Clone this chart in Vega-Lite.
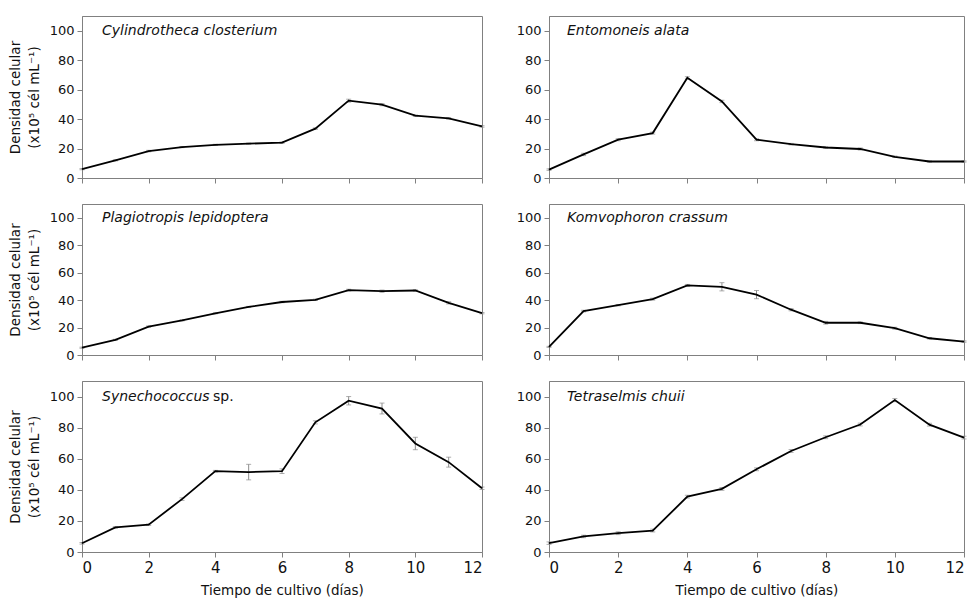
{
  "$schema": "https://vega.github.io/schema/vega-lite/v6.json",
  "padding": {"left": 7, "top": 15, "right": 5, "bottom": 2},
  "background": "white",
  "config": {
    "view": {"stroke": "#808080", "strokeWidth": 1},
    "font": "DejaVu Sans",
    "axis": {"grid": false, "domainColor": "#808080", "tickColor": "#808080", "labelColor": "#111", "titleColor": "#111", "titleFontWeight": "normal", "labelFont": "DejaVu Sans", "titleFont": "DejaVu Sans", "tickSize": 5, "labelOverlap": false},
    "axisY": {"labelFontSize": 13, "titleFontSize": 13.5, "titleLineHeight": 19, "titlePadding": 8, "labelPadding": 3},
    "axisX": {"labelFontSize": 15, "titleFontSize": 13.5, "labelPadding": 3, "titlePadding": 8}
  },
  "datasets": {
    "d": [
      {"sp": "Cylindrotheca closterium", "day": 0, "v": 6, "e": 0.4},
      {"sp": "Cylindrotheca closterium", "day": 1, "v": 12, "e": 0.4},
      {"sp": "Cylindrotheca closterium", "day": 2, "v": 18.3, "e": 0.5},
      {"sp": "Cylindrotheca closterium", "day": 3, "v": 21, "e": 0.4},
      {"sp": "Cylindrotheca closterium", "day": 4, "v": 22.5, "e": 0.4},
      {"sp": "Cylindrotheca closterium", "day": 5, "v": 23.3, "e": 0.4},
      {"sp": "Cylindrotheca closterium", "day": 6, "v": 24, "e": 0.5},
      {"sp": "Cylindrotheca closterium", "day": 7, "v": 33.5, "e": 0.5},
      {"sp": "Cylindrotheca closterium", "day": 8, "v": 52.5, "e": 1},
      {"sp": "Cylindrotheca closterium", "day": 9, "v": 49.8, "e": 0.7},
      {"sp": "Cylindrotheca closterium", "day": 10, "v": 42.3, "e": 0.5},
      {"sp": "Cylindrotheca closterium", "day": 11, "v": 40.5, "e": 0.5},
      {"sp": "Cylindrotheca closterium", "day": 12, "v": 35, "e": 0.5},
      {"sp": "Entomoneis alata", "day": 0, "v": 5.7, "e": 0.5},
      {"sp": "Entomoneis alata", "day": 1, "v": 16, "e": 0.8},
      {"sp": "Entomoneis alata", "day": 2, "v": 26, "e": 0.7},
      {"sp": "Entomoneis alata", "day": 3, "v": 30.5, "e": 0.7},
      {"sp": "Entomoneis alata", "day": 4, "v": 68, "e": 0.8},
      {"sp": "Entomoneis alata", "day": 5, "v": 52, "e": 0.8},
      {"sp": "Entomoneis alata", "day": 6, "v": 26, "e": 0.7},
      {"sp": "Entomoneis alata", "day": 7, "v": 23, "e": 0.5},
      {"sp": "Entomoneis alata", "day": 8, "v": 20.7, "e": 0.5},
      {"sp": "Entomoneis alata", "day": 9, "v": 19.7, "e": 0.7},
      {"sp": "Entomoneis alata", "day": 10, "v": 14.4, "e": 0.5},
      {"sp": "Entomoneis alata", "day": 11, "v": 11.2, "e": 0.4},
      {"sp": "Entomoneis alata", "day": 12, "v": 11.2, "e": 0.4},
      {"sp": "Plagiotropis lepidoptera", "day": 0, "v": 5.3, "e": 0.4},
      {"sp": "Plagiotropis lepidoptera", "day": 1, "v": 11, "e": 0.4},
      {"sp": "Plagiotropis lepidoptera", "day": 2, "v": 20.7, "e": 0.5},
      {"sp": "Plagiotropis lepidoptera", "day": 3, "v": 25.2, "e": 0.4},
      {"sp": "Plagiotropis lepidoptera", "day": 4, "v": 30.4, "e": 0.4},
      {"sp": "Plagiotropis lepidoptera", "day": 5, "v": 35, "e": 0.4},
      {"sp": "Plagiotropis lepidoptera", "day": 6, "v": 38.6, "e": 0.5},
      {"sp": "Plagiotropis lepidoptera", "day": 7, "v": 40.2, "e": 0.5},
      {"sp": "Plagiotropis lepidoptera", "day": 8, "v": 47.3, "e": 0.6},
      {"sp": "Plagiotropis lepidoptera", "day": 9, "v": 46.5, "e": 0.8},
      {"sp": "Plagiotropis lepidoptera", "day": 10, "v": 47, "e": 0.5},
      {"sp": "Plagiotropis lepidoptera", "day": 11, "v": 38, "e": 0.8},
      {"sp": "Plagiotropis lepidoptera", "day": 12, "v": 30.5, "e": 0.5},
      {"sp": "Komvophoron crassum", "day": 0, "v": 5.9, "e": 0.4},
      {"sp": "Komvophoron crassum", "day": 1, "v": 32, "e": 0.6},
      {"sp": "Komvophoron crassum", "day": 2, "v": 36.3, "e": 0.5},
      {"sp": "Komvophoron crassum", "day": 3, "v": 40.7, "e": 0.7},
      {"sp": "Komvophoron crassum", "day": 4, "v": 50.7, "e": 0.7},
      {"sp": "Komvophoron crassum", "day": 5, "v": 49.7, "e": 3},
      {"sp": "Komvophoron crassum", "day": 6, "v": 44, "e": 3},
      {"sp": "Komvophoron crassum", "day": 7, "v": 33, "e": 0.8},
      {"sp": "Komvophoron crassum", "day": 8, "v": 23.5, "e": 1},
      {"sp": "Komvophoron crassum", "day": 9, "v": 23.5, "e": 0.6},
      {"sp": "Komvophoron crassum", "day": 10, "v": 19.5, "e": 0.7},
      {"sp": "Komvophoron crassum", "day": 11, "v": 12.2, "e": 0.5},
      {"sp": "Komvophoron crassum", "day": 12, "v": 9.8, "e": 0.5},
      {"sp": "Synechococcus", "day": 0, "v": 5.6, "e": 0.5},
      {"sp": "Synechococcus", "day": 1, "v": 15.8, "e": 0.5},
      {"sp": "Synechococcus", "day": 2, "v": 17.6, "e": 0.5},
      {"sp": "Synechococcus", "day": 3, "v": 34, "e": 0.8},
      {"sp": "Synechococcus", "day": 4, "v": 52, "e": 0.5},
      {"sp": "Synechococcus", "day": 5, "v": 51.4, "e": 5},
      {"sp": "Synechococcus", "day": 6, "v": 52, "e": 1.5},
      {"sp": "Synechococcus", "day": 7, "v": 83.4, "e": 1},
      {"sp": "Synechococcus", "day": 8, "v": 97.3, "e": 2.7},
      {"sp": "Synechococcus", "day": 9, "v": 92.3, "e": 3.5},
      {"sp": "Synechococcus", "day": 10, "v": 69.8, "e": 4},
      {"sp": "Synechococcus", "day": 11, "v": 57.8, "e": 3.2},
      {"sp": "Synechococcus", "day": 12, "v": 41, "e": 0.8},
      {"sp": "Tetraselmis chuii", "day": 0, "v": 5.7, "e": 0.8},
      {"sp": "Tetraselmis chuii", "day": 1, "v": 10, "e": 0.8},
      {"sp": "Tetraselmis chuii", "day": 2, "v": 12.1, "e": 0.9},
      {"sp": "Tetraselmis chuii", "day": 3, "v": 13.8, "e": 0.9},
      {"sp": "Tetraselmis chuii", "day": 4, "v": 35.6, "e": 0.9},
      {"sp": "Tetraselmis chuii", "day": 5, "v": 40.6, "e": 0.9},
      {"sp": "Tetraselmis chuii", "day": 6, "v": 53.2, "e": 0.9},
      {"sp": "Tetraselmis chuii", "day": 7, "v": 65, "e": 0.9},
      {"sp": "Tetraselmis chuii", "day": 8, "v": 73.8, "e": 0.9},
      {"sp": "Tetraselmis chuii", "day": 9, "v": 82, "e": 0.9},
      {"sp": "Tetraselmis chuii", "day": 10, "v": 97.7, "e": 1},
      {"sp": "Tetraselmis chuii", "day": 11, "v": 81.9, "e": 0.9},
      {"sp": "Tetraselmis chuii", "day": 12, "v": 73.6, "e": 0.9}
    ]
  },
  "columns": 2,
  "align": "each",
  "spacing": {"row": 17, "column": 28},
  "concat": [
    {
      "width": 400, "height": 162,
      "layer": [
        {"data": {"name": "d"}, "transform": [{"filter": "datum.sp === 'Cylindrotheca closterium'"}], "mark": {"type": "errorbar", "color": "#8c8c8c", "thickness": 1, "ticks": {"size": 5, "color": "#8c8c8c"}},
         "encoding": {"x": {"field": "day", "type": "quantitative", "scale": {"domain": [0, 12], "nice": false}, "axis": {"labels": false, "title": null, "values": [0, 2, 4, 6, 8, 10, 12]}}, "y": {"field": "v", "type": "quantitative", "scale": {"domain": [0, 110], "nice": false}, "axis": {"values": [0, 20, 40, 60, 80, 100], "title": ["Densidad celular", "(x10⁵ cél mL⁻¹)"]}}, "yError": {"field": "e"}}},
        {"data": {"name": "d"}, "transform": [{"filter": "datum.sp === 'Cylindrotheca closterium'"}], "mark": {"type": "line", "color": "black", "strokeWidth": 1.8},
         "encoding": {"x": {"field": "day", "type": "quantitative", "scale": {"domain": [0, 12], "nice": false}, "axis": {"labels": false, "title": null, "values": [0, 2, 4, 6, 8, 10, 12]}}, "y": {"field": "v", "type": "quantitative", "scale": {"domain": [0, 110], "nice": false}, "axis": {"values": [0, 20, 40, 60, 80, 100], "title": ["Densidad celular", "(x10⁵ cél mL⁻¹)"]}}}},
        {"data": {"values": [{"label": "Cylindrotheca closterium"}]}, "mark": {"type": "text", "fontStyle": "italic", "fontSize": 14, "align": "left", "baseline": "middle", "dx": 20, "color": "#111"},
         "encoding": {"x": {"datum": 0, "type": "quantitative", "scale": {"domain": [0, 12], "nice": false}, "axis": {"labels": false, "title": null, "values": [0, 2, 4, 6, 8, 10, 12]}}, "y": {"datum": 100, "type": "quantitative", "scale": {"domain": [0, 110], "nice": false}, "axis": {"values": [0, 20, 40, 60, 80, 100], "title": ["Densidad celular", "(x10⁵ cél mL⁻¹)"]}}, "text": {"field": "label"}}}
      ]
    },
    {
      "width": 415, "height": 162,
      "layer": [
        {"data": {"name": "d"}, "transform": [{"filter": "datum.sp === 'Entomoneis alata'"}], "mark": {"type": "errorbar", "color": "#8c8c8c", "thickness": 1, "ticks": {"size": 5, "color": "#8c8c8c"}},
         "encoding": {"x": {"field": "day", "type": "quantitative", "scale": {"domain": [0, 12], "nice": false}, "axis": {"labels": false, "title": null, "values": [0, 2, 4, 6, 8, 10, 12]}}, "y": {"field": "v", "type": "quantitative", "scale": {"domain": [0, 110], "nice": false}, "axis": {"values": [0, 20, 40, 60, 80, 100], "title": null}}, "yError": {"field": "e"}}},
        {"data": {"name": "d"}, "transform": [{"filter": "datum.sp === 'Entomoneis alata'"}], "mark": {"type": "line", "color": "black", "strokeWidth": 1.8},
         "encoding": {"x": {"field": "day", "type": "quantitative", "scale": {"domain": [0, 12], "nice": false}, "axis": {"labels": false, "title": null, "values": [0, 2, 4, 6, 8, 10, 12]}}, "y": {"field": "v", "type": "quantitative", "scale": {"domain": [0, 110], "nice": false}, "axis": {"values": [0, 20, 40, 60, 80, 100], "title": null}}}},
        {"data": {"values": [{"label": "Entomoneis alata"}]}, "mark": {"type": "text", "fontStyle": "italic", "fontSize": 14, "align": "left", "baseline": "middle", "dx": 18, "color": "#111"},
         "encoding": {"x": {"datum": 0, "type": "quantitative", "scale": {"domain": [0, 12], "nice": false}, "axis": {"labels": false, "title": null, "values": [0, 2, 4, 6, 8, 10, 12]}}, "y": {"datum": 100, "type": "quantitative", "scale": {"domain": [0, 110], "nice": false}, "axis": {"values": [0, 20, 40, 60, 80, 100], "title": null}}, "text": {"field": "label"}}}
      ]
    },
    {
      "width": 400, "height": 151,
      "layer": [
        {"data": {"name": "d"}, "transform": [{"filter": "datum.sp === 'Plagiotropis lepidoptera'"}], "mark": {"type": "errorbar", "color": "#8c8c8c", "thickness": 1, "ticks": {"size": 5, "color": "#8c8c8c"}},
         "encoding": {"x": {"field": "day", "type": "quantitative", "scale": {"domain": [0, 12], "nice": false}, "axis": {"labels": false, "title": null, "values": [0, 2, 4, 6, 8, 10, 12]}}, "y": {"field": "v", "type": "quantitative", "scale": {"domain": [0, 110], "nice": false}, "axis": {"values": [0, 20, 40, 60, 80, 100], "title": ["Densidad celular", "(x10⁵ cél mL⁻¹)"]}}, "yError": {"field": "e"}}},
        {"data": {"name": "d"}, "transform": [{"filter": "datum.sp === 'Plagiotropis lepidoptera'"}], "mark": {"type": "line", "color": "black", "strokeWidth": 1.8},
         "encoding": {"x": {"field": "day", "type": "quantitative", "scale": {"domain": [0, 12], "nice": false}, "axis": {"labels": false, "title": null, "values": [0, 2, 4, 6, 8, 10, 12]}}, "y": {"field": "v", "type": "quantitative", "scale": {"domain": [0, 110], "nice": false}, "axis": {"values": [0, 20, 40, 60, 80, 100], "title": ["Densidad celular", "(x10⁵ cél mL⁻¹)"]}}}},
        {"data": {"values": [{"label": "Plagiotropis lepidoptera"}]}, "mark": {"type": "text", "fontStyle": "italic", "fontSize": 14, "align": "left", "baseline": "middle", "dx": 20, "color": "#111"},
         "encoding": {"x": {"datum": 0, "type": "quantitative", "scale": {"domain": [0, 12], "nice": false}, "axis": {"labels": false, "title": null, "values": [0, 2, 4, 6, 8, 10, 12]}}, "y": {"datum": 100, "type": "quantitative", "scale": {"domain": [0, 110], "nice": false}, "axis": {"values": [0, 20, 40, 60, 80, 100], "title": ["Densidad celular", "(x10⁵ cél mL⁻¹)"]}}, "text": {"field": "label"}}}
      ]
    },
    {
      "width": 415, "height": 151,
      "layer": [
        {"data": {"name": "d"}, "transform": [{"filter": "datum.sp === 'Komvophoron crassum'"}], "mark": {"type": "errorbar", "color": "#8c8c8c", "thickness": 1, "ticks": {"size": 5, "color": "#8c8c8c"}},
         "encoding": {"x": {"field": "day", "type": "quantitative", "scale": {"domain": [0, 12], "nice": false}, "axis": {"labels": false, "title": null, "values": [0, 2, 4, 6, 8, 10, 12]}}, "y": {"field": "v", "type": "quantitative", "scale": {"domain": [0, 110], "nice": false}, "axis": {"values": [0, 20, 40, 60, 80, 100], "title": null}}, "yError": {"field": "e"}}},
        {"data": {"name": "d"}, "transform": [{"filter": "datum.sp === 'Komvophoron crassum'"}], "mark": {"type": "line", "color": "black", "strokeWidth": 1.8},
         "encoding": {"x": {"field": "day", "type": "quantitative", "scale": {"domain": [0, 12], "nice": false}, "axis": {"labels": false, "title": null, "values": [0, 2, 4, 6, 8, 10, 12]}}, "y": {"field": "v", "type": "quantitative", "scale": {"domain": [0, 110], "nice": false}, "axis": {"values": [0, 20, 40, 60, 80, 100], "title": null}}}},
        {"data": {"values": [{"label": "Komvophoron crassum"}]}, "mark": {"type": "text", "fontStyle": "italic", "fontSize": 14, "align": "left", "baseline": "middle", "dx": 18, "color": "#111"},
         "encoding": {"x": {"datum": 0, "type": "quantitative", "scale": {"domain": [0, 12], "nice": false}, "axis": {"labels": false, "title": null, "values": [0, 2, 4, 6, 8, 10, 12]}}, "y": {"datum": 100, "type": "quantitative", "scale": {"domain": [0, 110], "nice": false}, "axis": {"values": [0, 20, 40, 60, 80, 100], "title": null}}, "text": {"field": "label"}}}
      ]
    },
    {
      "width": 400, "height": 171,
      "layer": [
        {"data": {"name": "d"}, "transform": [{"filter": "datum.sp === 'Synechococcus'"}], "mark": {"type": "errorbar", "color": "#8c8c8c", "thickness": 1, "ticks": {"size": 5, "color": "#8c8c8c"}},
         "encoding": {"x": {"field": "day", "type": "quantitative", "scale": {"domain": [0, 12], "nice": false}, "axis": {"title": "Tiempo de cultivo (días)", "values": [0, 2, 4, 6, 8, 10, 12]}}, "y": {"field": "v", "type": "quantitative", "scale": {"domain": [0, 110], "nice": false}, "axis": {"values": [0, 20, 40, 60, 80, 100], "title": ["Densidad celular", "(x10⁵ cél mL⁻¹)"]}}, "yError": {"field": "e"}}},
        {"data": {"name": "d"}, "transform": [{"filter": "datum.sp === 'Synechococcus'"}], "mark": {"type": "line", "color": "black", "strokeWidth": 1.8},
         "encoding": {"x": {"field": "day", "type": "quantitative", "scale": {"domain": [0, 12], "nice": false}, "axis": {"title": "Tiempo de cultivo (días)", "values": [0, 2, 4, 6, 8, 10, 12]}}, "y": {"field": "v", "type": "quantitative", "scale": {"domain": [0, 110], "nice": false}, "axis": {"values": [0, 20, 40, 60, 80, 100], "title": ["Densidad celular", "(x10⁵ cél mL⁻¹)"]}}}},
        {"data": {"values": [{"label": "Synechococcus"}]}, "mark": {"type": "text", "fontStyle": "italic", "fontSize": 14, "align": "left", "baseline": "middle", "dx": 20, "color": "#111"},
         "encoding": {"x": {"datum": 0, "type": "quantitative", "scale": {"domain": [0, 12], "nice": false}, "axis": {"title": "Tiempo de cultivo (días)", "values": [0, 2, 4, 6, 8, 10, 12]}}, "y": {"datum": 100, "type": "quantitative", "scale": {"domain": [0, 110], "nice": false}, "axis": {"values": [0, 20, 40, 60, 80, 100], "title": ["Densidad celular", "(x10⁵ cél mL⁻¹)"]}}, "text": {"field": "label"}}},
        {"data": {"values": [{"label": "sp."}]}, "mark": {"type": "text", "fontSize": 14, "align": "left", "baseline": "middle", "dx": 131, "color": "#111"},
         "encoding": {"x": {"datum": 0, "type": "quantitative", "scale": {"domain": [0, 12], "nice": false}, "axis": {"title": "Tiempo de cultivo (días)", "values": [0, 2, 4, 6, 8, 10, 12]}}, "y": {"datum": 100, "type": "quantitative", "scale": {"domain": [0, 110], "nice": false}, "axis": {"values": [0, 20, 40, 60, 80, 100], "title": ["Densidad celular", "(x10⁵ cél mL⁻¹)"]}}, "text": {"field": "label"}}}
      ]
    },
    {
      "width": 415, "height": 171,
      "layer": [
        {"data": {"name": "d"}, "transform": [{"filter": "datum.sp === 'Tetraselmis chuii'"}], "mark": {"type": "errorbar", "color": "#8c8c8c", "thickness": 1, "ticks": {"size": 5, "color": "#8c8c8c"}},
         "encoding": {"x": {"field": "day", "type": "quantitative", "scale": {"domain": [0, 12], "nice": false}, "axis": {"title": "Tiempo de cultivo (días)", "values": [0, 2, 4, 6, 8, 10, 12]}}, "y": {"field": "v", "type": "quantitative", "scale": {"domain": [0, 110], "nice": false}, "axis": {"values": [0, 20, 40, 60, 80, 100], "title": null}}, "yError": {"field": "e"}}},
        {"data": {"name": "d"}, "transform": [{"filter": "datum.sp === 'Tetraselmis chuii'"}], "mark": {"type": "line", "color": "black", "strokeWidth": 1.8},
         "encoding": {"x": {"field": "day", "type": "quantitative", "scale": {"domain": [0, 12], "nice": false}, "axis": {"title": "Tiempo de cultivo (días)", "values": [0, 2, 4, 6, 8, 10, 12]}}, "y": {"field": "v", "type": "quantitative", "scale": {"domain": [0, 110], "nice": false}, "axis": {"values": [0, 20, 40, 60, 80, 100], "title": null}}}},
        {"data": {"values": [{"label": "Tetraselmis chuii"}]}, "mark": {"type": "text", "fontStyle": "italic", "fontSize": 14, "align": "left", "baseline": "middle", "dx": 18, "color": "#111"},
         "encoding": {"x": {"datum": 0, "type": "quantitative", "scale": {"domain": [0, 12], "nice": false}, "axis": {"title": "Tiempo de cultivo (días)", "values": [0, 2, 4, 6, 8, 10, 12]}}, "y": {"datum": 100, "type": "quantitative", "scale": {"domain": [0, 110], "nice": false}, "axis": {"values": [0, 20, 40, 60, 80, 100], "title": null}}, "text": {"field": "label"}}}
      ]
    }
  ]
}
